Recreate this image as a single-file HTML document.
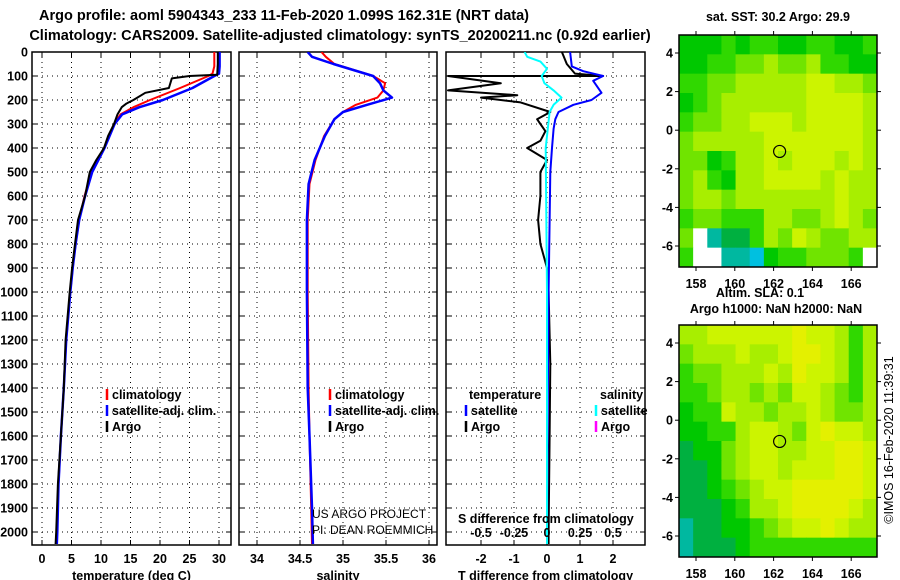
<!DOCTYPE html>
<html><head><meta charset="utf-8"><style>
html,body{margin:0;padding:0;background:#fff;}
svg{display:block;font-family:"Liberation Sans",sans-serif;}
.b{font-weight:bold;font-size:14.5px;}
.t{font-weight:bold;font-size:12.5px;}
</style></head><body>
<svg id="c" width="900" height="580" viewBox="0 0 900 580" xmlns="http://www.w3.org/2000/svg">
<defs>
<clipPath id="c1"><rect x="32" y="52" width="199" height="493"/></clipPath>
<clipPath id="c2"><rect x="239" y="52" width="198" height="493"/></clipPath>
<clipPath id="c3"><rect x="446" y="52" width="199" height="493"/></clipPath>
</defs>
<text x="284" y="20" text-anchor="middle" class="b">Argo profile: aoml 5904343_233 11-Feb-2020 1.099S 162.31E (NRT data)</text>
<text x="340" y="40" text-anchor="middle" class="b">Climatology: CARS2009. Satellite-adjusted climatology: synTS_20200211.nc (0.92d earlier)</text>
<g id="g"></g>
</svg>
<script>
// ---------- data ----------
const depthTicks=[0,100,200,300,400,500,600,700,800,900,1000,1100,1200,1300,1400,1500,1600,1700,1800,1900,2000];
const tempTicks=[0,5,10,15,20,25,30];
const salTicks=[34,34.5,35,35.5,36];
const tdTicks=[-2,-1,0,1,2];
const sdTicks=[-0.5,-0.25,0,0.25,0.5];
const sdTickLabels=["-0.5","-0.25","0","0.25","0.5"];

const argoTDepth=[0,50,95,100,110,150,170,200,215,230,260,300,350,400,450,500,600,700,800,900,1000,1200,1400,1600,1800,2000,2050];
const argoTemp=[29.8,29.8,29.7,25,22,21.5,17.5,15.5,14.3,13.5,12.8,12.2,11.2,10.5,9.2,8.1,7.3,6.1,5.6,5.1,4.7,4.0,3.7,3.2,2.7,2.4,2.3];
const climTDepth=[0,60,90,100,150,200,230,260,300,400,500,600,700,800,900,1000,1200,1400,1600,1800,2000,2050];
const climTemp=[29.2,29.2,28.9,28.2,23.4,18.3,15.5,13.3,12.2,10.6,8.4,7.2,6.3,5.7,5.2,4.8,4.1,3.7,3.2,2.8,2.5,2.4];
const satTDepth=[0,60,90,100,150,200,230,260,300,400,500,600,700,800,900,1000,1200,1400,1600,1800,2000,2050];
const satTemp=[30.1,30.1,30.0,29.2,25.5,20.5,16.5,13.6,12.3,10.6,8.5,7.3,6.3,5.7,5.2,4.8,4.1,3.7,3.2,2.8,2.6,2.5];

const salDepth=[0,20,50,100,130,160,190,220,250,280,350,450,550,700,1000,1400,1600,1900,2050];
const climSal=[34.75,34.8,34.9,35.35,35.49,35.47,35.4,35.15,35.0,34.9,34.78,34.68,34.61,34.59,34.59,34.6,34.61,34.63,34.64];
const satSal=[34.59,34.64,34.89,35.35,35.43,35.47,35.57,35.28,35.0,34.9,34.79,34.67,34.6,34.58,34.58,34.59,34.61,34.64,34.65];

const tdArgoDepth=[0,50,90,100,100,130,160,180,190,210,250,280,300,330,370,400,450,500,600,700,800,900,1000,1300,1600,2000,2050];
const tdArgo=[0.45,0.6,0.85,1.7,-3,-1.4,-3,-0.9,-2,-0.8,0.1,-0.3,-0.2,-0.05,-0.2,-0.6,0,-0.2,-0.2,-0.27,-0.2,0,0.05,0.1,0.08,0.05,0.05];
const tdSatDepth=[0,60,80,100,120,140,170,200,220,250,280,320,400,500,1000,1500,2000,2050];
const tdSat=[0.7,0.75,1.1,1.7,1.4,1.5,1.65,1.35,0.8,0.35,0.25,0.2,0.15,0.1,0.05,0.02,0,0];
const sdSatDepth=[0,20,40,70,100,130,160,190,220,250,400,1000,2050];
const sdSat=[-0.17,-0.15,-0.05,0,-0.04,-0.02,0.05,0.11,0.05,0.02,-0.01,0,0];

const map1Rows=["55565665566556","55667787786655","66778888899887","56788888899998","67788999899998","78888899999998","77568898999898","78658899998988","78878888888988","67766688778987","7_344687987788","6__3325667776_"];
const map2Rows=["88999999a99868","78889889aa9868","67788898a99868","66788787998768","56698878898778","5566899879a998","45578998899aa9","44578998999aa9","44567899aaaaa9","44456889aaaa98","3445567899a988","34445666666666"];
const latTicks=[4,2,0,-2,-4,-6];
const lonTicks=[158,160,162,164,166];
const floatLon=162.31, floatLat=-1.1;

// ---------- scales ----------
const NS="http://www.w3.org/2000/svg";
const G=document.getElementById('g');
const yD=d=>52+d*0.24;
const xT=t=>42+t*5.9;
const xS=s=>257+(s-34)*86;
const xTd=v=>547+v*33;
const xSd=v=>547+v*132;
function el(tag,attrs,parent,txt){const e=document.createElementNS(NS,tag);for(const k in attrs)e.setAttribute(k,attrs[k]);if(txt!==undefined)e.textContent=txt;(parent||G).appendChild(e);return e;}

const panels=[{x0:32,x1:231,clip:'c1',ticks:tempTicks,f:xT,lab:tempTicks.map(String),title:'temperature (deg C)',name:'temperature-panel'},
{x0:239,x1:437,clip:'c2',ticks:salTicks,f:xS,lab:salTicks.map(String),title:'salinity',name:'salinity-panel'},
{x0:446,x1:645,clip:'c3',ticks:tdTicks,f:xTd,lab:tdTicks.map(String),title:'T difference from climatology',name:'difference-panel'}];

panels.forEach(p=>{
  const g=el('g',{});
  
  
  depthTicks.forEach(d=>{
    const l=el('line',{x1:p.x0,x2:p.x1,y1:yD(d),y2:yD(d),stroke:'#000','stroke-width':1,'stroke-dasharray':'1,4'},g);
    
    
    el('line',{x1:p.x0,x2:p.x0+5,y1:yD(d),y2:yD(d),stroke:'#000'},g);
    el('line',{x1:p.x1-5,x2:p.x1,y1:yD(d),y2:yD(d),stroke:'#000'},g);
  });
  p.ticks.forEach((t,i)=>{
    const l=el('line',{x1:p.f(t),x2:p.f(t),y1:52,y2:545,stroke:'#000','stroke-width':1,'stroke-dasharray':'1,4'},g);
    
    
    el('line',{x1:p.f(t),x2:p.f(t),y1:52,y2:57,stroke:'#000'},g);
    el('line',{x1:p.f(t),x2:p.f(t),y1:540,y2:545,stroke:'#000'},g);
    const tx=el('text',{x:p.f(t),y:563,'text-anchor':'middle',class:'t'},g,p.lab[i]);
    
    
  });
  const r=el('rect',{x:p.x0,y:52,width:p.x1-p.x0,height:493,fill:'none',stroke:'#000','stroke-width':1.5},g);
  
  
  const tt=el('text',{x:(p.x0+p.x1)/2,y:580,'text-anchor':'middle',class:'t'},g,p.title);
  
  
});
depthTicks.forEach(d=>{
  const tx=el('text',{x:28,y:yD(d)+4.5,'text-anchor':'end',class:'t'},G,String(d));
  
  
});

function line(ds,vs,f,color,w,clip,name){
  const pts=ds.map((d,i)=>f(vs[i]).toFixed(1)+','+yD(d).toFixed(1)).join(' ');
  const l=el('polyline',{points:pts,fill:'none',stroke:color,'stroke-width':w,'clip-path':'url(#'+clip+')','stroke-linejoin':'round'});
  
  
}
line(climTDepth,climTemp,xT,'#f00',2,'c1','climatology-temperature-line');
line(satTDepth,satTemp,xT,'#00f',2.5,'c1','satellite-temperature-line');
line(argoTDepth,argoTemp,xT,'#000',2,'c1','argo-temperature-line');
line(salDepth,climSal,xS,'#f00',2,'c2','climatology-salinity-line');
line(salDepth,satSal,xS,'#00f',2.5,'c2','satellite-salinity-line');
line(tdArgoDepth,tdArgo,xTd,'#000',2,'c3','argo-t-difference-line');
line(tdSatDepth,tdSat,xTd,'#00f',2,'c3','satellite-t-difference-line');
line(sdSatDepth,sdSat,xSd,'#0ff',2,'c3','satellite-s-difference-line');

sdTicks.forEach((v,i)=>{
  const tx=el('text',{x:xSd(v),y:537,'text-anchor':'middle',class:'t'},G,sdTickLabels[i]);
  
  
});
{const tx=el('text',{x:458,y:523,class:'t'},G,'S difference from climatology');

}

function leg(x,y,color,label,name){
  const g=el('g',{});
  
  
  el('line',{x1:x,x2:x,y1:y-10,y2:y+1,stroke:color,'stroke-width':2.5},g);
  el('text',{x:x+5,y:y,class:'t'},g,label);
}
[[107,'#f00','climatology'],[107,'#00f','satellite-adj. clim.'],[107,'#000','Argo']].forEach((a,i)=>leg(a[0],399+i*16,a[1],a[2],'temperature-legend-entry'));
[[330,'#f00','climatology'],[330,'#00f','satellite-adj. clim.'],[330,'#000','Argo']].forEach((a,i)=>leg(a[0],399+i*16,a[1],a[2],'salinity-legend-entry'));
{const t1=el('text',{x:469,y:399,class:'t'},G,'temperature');
const t2=el('text',{x:600,y:399,class:'t'},G,'salinity');}
leg(466,415,'#00f','satellite','diff-legend-t-satellite');
leg(466,431,'#000','Argo','diff-legend-t-argo');
leg(596,415,'#0ff','satellite','diff-legend-s-satellite');
leg(596,431,'#f0f','Argo','diff-legend-s-argo');
{const a=el('text',{x:312,y:518,'font-size':12},G,'US ARGO PROJECT');
const b=el('text',{x:312,y:534,'font-size':12},G,'PI: DEAN ROEMMICH');}

const cmap={'0':'#000090','1':'#0050ff','2':'#00c0e0','3':'#00b8a0','4':'#00b040','5':'#00c800','6':'#30d800','7':'#70e400','8':'#a8ee00','9':'#ccf400','a':'#e4f000','b':'#f0c000','_':'#ffffff'};
function drawMap(top,rows,name,titleLines,lonLabelY){
  const x0=679,x1=877,y1=top+232;
  const lonX=l=>696+(l-158)*19.4;
  const latY=l=>top+18+(4-l)*19.3;
  const g=el('g',{});
  
  
  const nr=rows.length,nc=rows[0].length,cw=(x1-x0)/nc,ch=(y1-top)/nr;
  rows.forEach((r,i)=>{for(let j=0;j<nc;j++){
    const c=el('rect',{x:(x0+j*cw).toFixed(2),y:(top+i*ch).toFixed(2),width:(cw+0.4).toFixed(2),height:(ch+0.4).toFixed(2),fill:cmap[r[j]]},g);
    
    
  }});
  el('rect',{x:x0,y:top,width:x1-x0,height:y1-top,fill:'none',stroke:'#000','stroke-width':1.5},g);
  latTicks.forEach(l=>{
    el('line',{x1:x0-4,x2:x0,y1:latY(l),y2:latY(l),stroke:'#000'},g);
    el('line',{x1:x1,x2:x1+4,y1:latY(l),y2:latY(l),stroke:'#000'},g);
    const t=el('text',{x:x0-6,y:latY(l)+4.5,'text-anchor':'end',class:'t'},g,String(l));
    
    
  });
  lonTicks.forEach(l=>{
    el('line',{x1:lonX(l),x2:lonX(l),y1:top-4,y2:top,stroke:'#000'},g);
    el('line',{x1:lonX(l),x2:lonX(l),y1:y1,y2:y1+4,stroke:'#000'},g);
    const t=el('text',{x:lonX(l),y:lonLabelY,'text-anchor':'middle',class:'t'},g,String(l));
    
    
  });
  const c=el('circle',{cx:lonX(floatLon),cy:latY(floatLat),r:6,fill:'none',stroke:'#000','stroke-width':1.2},g);
  
  
  titleLines.forEach(tl=>{
    const t=el('text',{x:tl[0],y:tl[1],'text-anchor':'middle',class:'t'},g,tl[2]);
    
    
  });
}
drawMap(35,map1Rows,'sst-map',[[778,21,'sat. SST: 30.2 Argo: 29.9'],[760,297,'Altim. SLA: 0.1']],288);
drawMap(325,map2Rows,'steric-height-map',[[776,313,'Argo h1000: NaN h2000: NaN']],578);
{const t=el('text',{x:893,y:440,'text-anchor':'middle','font-size':12.5,transform:'rotate(-90 893 440)'},G,'©IMOS 16-Feb-2020 11:39:31');

}
</script>
</body></html>
